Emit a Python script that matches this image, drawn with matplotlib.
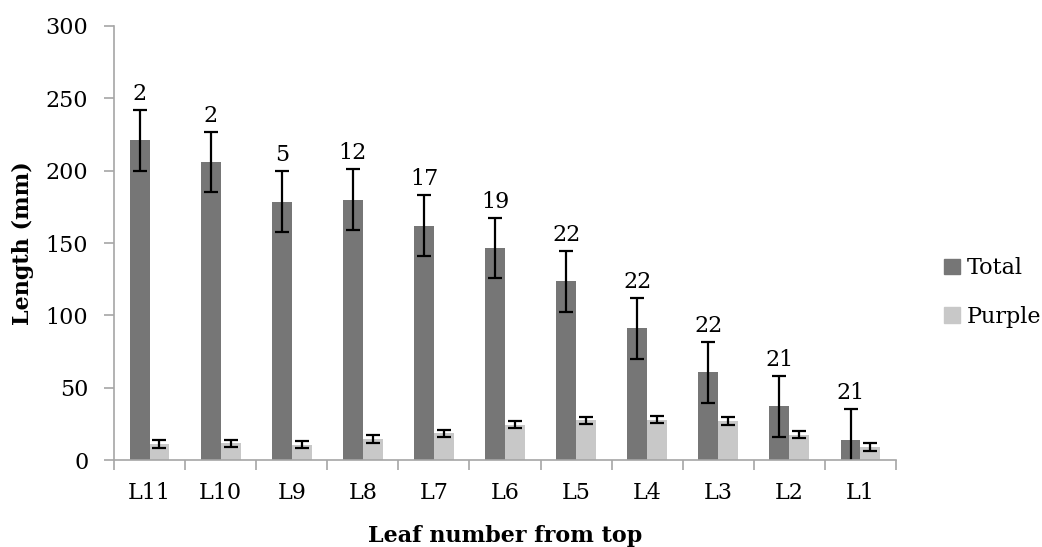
import matplotlib
matplotlib.use('Agg')
import matplotlib.pyplot as plt
from matplotlib.patches import Patch
import numpy as np

leaves = ['L11', 'L10', 'L9', 'L8', 'L7', 'L6', 'L5', 'L4', 'L3', 'L2', 'L1']
total = [221, 206, 178.5, 180, 162, 146.5, 123.5, 91, 60.5, 37, 14]
total_err = [21, 21, 21, 21, 21, 21, 21, 21, 21, 21, 21]
purple = [11, 11.5, 10.5, 14.5, 18.5, 24.5, 27.5, 28, 27, 17.5, 9]
purple_err = [2.5, 2.5, 2.5, 2.5, 2.5, 2.5, 2.5, 2.5, 2.5, 2.5, 2.5]
counts = [2, 2, 5, 12, 17, 19, 22, 22, 22, 21, 21]

plt.rcParams['font.family'] = ['DejaVu Serif']
dark, light, axis_grey = '#767676', '#c8c8c8', '#a6a6a6'
fs = 16

fig = plt.figure(figsize=(10.42, 5.47), dpi=100)
ax = fig.add_axes([0.1094, 0.159, 0.7505, 0.7935])

x = np.arange(len(leaves))
w = 0.28
ekw = dict(ecolor='black', elinewidth=1.6, capsize=5, capthick=1.6)
ax.bar(x - w / 2, total, w, color=dark, yerr=total_err, error_kw=ekw, zorder=2)
ax.bar(x + w / 2, purple, w, color=light, yerr=purple_err, error_kw=ekw, zorder=2)

for xi, t, n in zip(x, total, counts):
  ax.text(xi - w / 2, t + 32, str(n), ha='center', va='center', fontsize=fs)

ax.set_xlim(-0.5, len(leaves) - 0.5)
ax.set_ylim(0, 300)
ax.set_yticks(range(0, 301, 50))
ax.set_xticks(x)
ax.set_xticklabels(leaves)
ax.set_xticks(np.arange(-0.5, len(leaves), 1), minor=True)
ax.tick_params(axis='x', which='major', length=0, pad=16, labelsize=fs)
ax.tick_params(axis='x', which='minor', length=7, width=1.2, color=axis_grey)
ax.tick_params(axis='y', length=7, width=1.2, color=axis_grey, pad=11.5, labelsize=fs)

for s in ('top', 'right'):
  ax.spines[s].set_visible(False)
for s in ('left', 'bottom'):
  ax.spines[s].set_color(axis_grey)
  ax.spines[s].set_linewidth(1.2)

ax.set_xlabel('Leaf number from top', fontsize=fs, fontweight='bold', labelpad=15)
ax.set_ylabel('Length (mm)', fontsize=fs, fontweight='bold', labelpad=8)

handles = [Patch(color=dark), Patch(color=light)]
fig.legend(handles, ['Total', 'Purple'], loc='center left', bbox_to_anchor=(0.906, 0.465),
  frameon=False, fontsize=fs, handlelength=0.7, handleheight=0.7,
  handletextpad=0.3, labelspacing=1.2, borderaxespad=0, borderpad=0)

fig.savefig('out.png', dpi=100)
